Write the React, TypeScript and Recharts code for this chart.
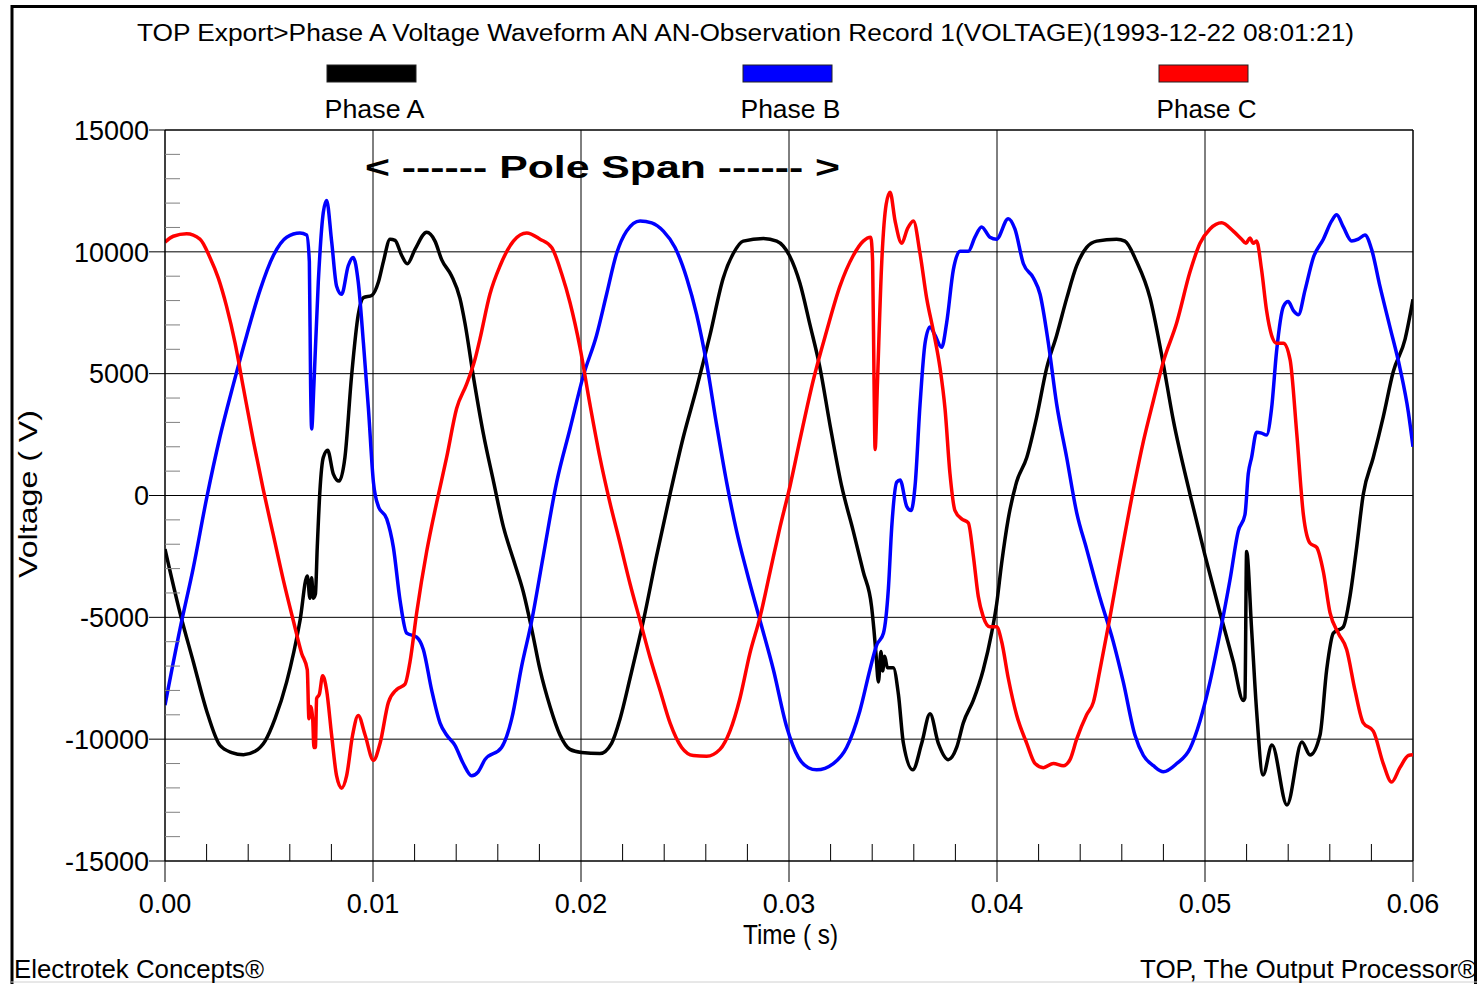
import { LineChart, Line, XAxis, YAxis, ReferenceLine } from 'recharts'

// time in milliseconds, voltage in volts
const phaseATime = [0, 0.72, 1.36, 2.0, 2.64, 3.21, 3.77, 4.33, 4.81, 5.29, 5.85, 6.49, 6.84, 6.97, 7.05, 7.13, 7.23, 7.32, 7.45, 7.61, 7.82, 8.09, 8.37, 8.65, 8.97, 9.29, 9.54, 9.94, 10.26, 10.5, 10.82, 11.06, 11.38, 11.65, 12.02, 12.58, 12.98, 13.3, 13.78, 14.18, 14.42, 14.82, 15.3, 15.8, 16.27, 16.75, 17.23, 17.63, 18.03, 18.51, 18.99, 19.47, 20.03, 20.91, 21.47, 21.88, 22.36, 23.0, 23.64, 24.28, 24.92, 25.56, 26.2, 26.84, 27.32, 27.8, 28.77, 29.41, 30.02, 30.53, 31.01, 31.49, 31.97, 32.53, 33.09, 33.57, 33.97, 34.08, 34.18, 34.3, 34.42, 34.5, 34.6, 34.73, 35.01, 35.26, 35.5, 35.95, 36.38, 36.78, 37.18, 37.66, 38.06, 38.38, 38.86, 39.34, 39.74, 39.98, 40.22, 40.54, 40.94, 41.43, 41.91, 42.39, 42.87, 43.35, 43.83, 44.31, 44.79, 45.75, 46.15, 46.71, 47.36, 47.92, 48.48, 49.28, 50.0, 50.72, 51.36, 51.84, 51.92, 52.0, 52.24, 52.48, 52.79, 53.22, 53.94, 54.66, 55.05, 55.53, 55.85, 56.17, 56.65, 56.97, 57.29, 57.61, 58.09, 58.57, 59.05, 59.62, 60.0]
const phaseAVolts = [-2200, -4810, -6820, -8830, -10250, -10550, -10640, -10500, -10080, -9160, -7650, -5140, -3300, -4220, -3380, -4220, -4050, -2130, 220, 1560, 1860, 890, 590, 1560, 4910, 7420, 8120, 8210, 8760, 9600, 10520, 10470, 9850, 9510, 10100, 10800, 10440, 9680, 9010, 8090, 7080, 4910, 2560, 550, -1290, -2630, -3970, -5480, -7150, -8660, -9830, -10420, -10550, -10590, -10170, -9160, -7490, -5140, -2460, 50, 2400, 4410, 6580, 8930, 9930, 10440, 10550, 10440, 9850, 8700, 7000, 5240, 2900, 390, -1460, -3130, -4560, -5480, -6480, -7650, -6400, -7200, -6600, -7070, -7070, -8160, -10170, -11260, -10170, -8960, -10170, -10840, -10340, -9330, -8410, -7150, -5650, -4470, -2800, -960, 550, 1560, 3230, 5240, 6580, 8090, 9430, 10180, 10440, 10520, 10440, 9600, 8100, 5750, 3070, 50, -2460, -4810, -6820, -8410, -8300, -2300, -5480, -8830, -11470, -10240, -12700, -10120, -10650, -9830, -7150, -5650, -5390, -4140, -2130, 50, 1560, 3230, 5080, 6420, 8050]

const phaseBTime = [0, 0.72, 1.36, 2.0, 2.64, 3.29, 3.93, 4.57, 5.21, 5.85, 6.49, 6.81, 6.94, 7.0, 7.05, 7.16, 7.37, 7.61, 7.77, 8.01, 8.25, 8.49, 8.81, 9.05, 9.29, 9.54, 9.78, 10.02, 10.26, 10.66, 10.98, 11.3, 11.62, 12.1, 12.42, 12.82, 13.22, 13.54, 13.94, 14.34, 14.74, 15.06, 15.38, 16.18, 16.67, 17.15, 17.63, 18.19, 18.83, 19.47, 20.11, 20.75, 21.23, 21.71, 22.19, 22.84, 23.4, 23.96, 24.52, 25.08, 25.56, 26.04, 26.52, 27.0, 27.48, 27.97, 28.61, 29.25, 29.89, 30.45, 30.93, 31.33, 32.13, 32.77, 33.41, 33.89, 34.21, 34.54, 34.78, 34.94, 35.18, 35.34, 35.66, 35.87, 36.06, 36.3, 36.54, 36.78, 37.02, 37.34, 37.58, 37.9, 38.22, 38.62, 38.94, 39.26, 39.66, 39.98, 40.54, 40.86, 41.27, 41.75, 42.07, 42.47, 42.87, 43.35, 43.83, 44.31, 44.95, 45.59, 46.07, 46.63, 47.04, 47.52, 48.0, 48.64, 49.28, 49.76, 50.24, 50.72, 51.2, 51.6, 51.92, 52.08, 52.24, 52.48, 52.72, 52.96, 53.2, 53.44, 53.77, 54.0, 54.25, 54.49, 54.81, 55.21, 55.69, 56.09, 56.33, 56.65, 57.05, 57.37, 57.69, 58.01, 58.41, 58.89, 59.37, 59.78, 60.0]
const phaseBVolts = [-8600, -5480, -2970, -120, 2400, 4570, 6580, 8430, 9850, 10600, 10770, 10690, 9600, 4570, 2730, 4570, 8760, 11610, 12110, 10440, 8590, 8260, 9430, 9770, 8760, 6250, 3570, 550, -450, -960, -2130, -4300, -5650, -5810, -6320, -7990, -9330, -9830, -10250, -11000, -11500, -11340, -10840, -10340, -9160, -6990, -5140, -2460, 550, 2730, 4910, 6580, 8260, 9930, 10850, 11270, 11190, 10850, 10180, 8930, 7420, 5410, 2900, 550, -1460, -3130, -5140, -7150, -9500, -10750, -11170, -11260, -11000, -10340, -8830, -7150, -6150, -5650, -3800, -1290, 550, 640, -450, -620, 390, 3740, 6250, 6920, 6580, 6080, 7090, 9260, 10020, 10020, 10600, 11020, 10600, 10520, 11360, 10940, 9510, 8930, 8260, 6250, 3740, 1560, -700, -2200, -4200, -6000, -7650, -9830, -10670, -11090, -11340, -11000, -10380, -9250, -7650, -5650, -3470, -1460, -790, 890, 1560, 2600, 2560, 2480, 3570, 5910, 7760, 7960, 7590, 7420, 8430, 9770, 10520, 11270, 11520, 11020, 10440, 10520, 10690, 10100, 8590, 6920, 5240, 3400, 2000]

const phaseCTime = [0, 0.4, 1.04, 1.68, 2.16, 2.56, 2.96, 3.37, 3.77, 4.25, 4.73, 5.21, 5.69, 6.17, 6.57, 6.84, 6.92, 7.0, 7.1, 7.16, 7.23, 7.29, 7.42, 7.58, 7.77, 8.01, 8.25, 8.49, 8.73, 9.02, 9.29, 9.62, 10.02, 10.34, 10.74, 11.14, 11.54, 11.78, 12.1, 12.58, 13.06, 13.54, 14.02, 14.5, 14.9, 15.14, 15.62, 16.11, 16.75, 17.39, 18.03, 18.59, 19.07, 19.47, 19.95, 20.43, 20.91, 21.39, 21.88, 22.36, 22.84, 23.32, 23.8, 24.28, 24.84, 25.4, 26.04, 26.68, 27.16, 27.64, 28.12, 28.61, 29.09, 29.57, 30.05, 30.53, 31.17, 31.81, 32.45, 33.09, 33.57, 33.93, 34.02, 34.09, 34.14, 34.25, 34.46, 34.67, 34.86, 35.1, 35.42, 35.69, 35.98, 36.3, 36.62, 36.94, 37.26, 37.5, 37.74, 37.98, 38.3, 38.62, 38.86, 39.1, 39.34, 39.66, 39.98, 40.22, 40.54, 40.94, 41.43, 41.83, 42.23, 42.71, 43.19, 43.51, 43.83, 44.31, 44.63, 44.95, 45.43, 45.91, 46.55, 47.04, 47.52, 48.0, 48.64, 49.28, 49.76, 50.24, 50.8, 51.36, 51.76, 51.97, 52.16, 52.32, 52.48, 52.72, 52.96, 53.2, 53.44, 53.77, 54.09, 54.41, 54.73, 55.05, 55.37, 55.69, 56.01, 56.41, 56.81, 57.21, 57.61, 58.09, 58.57, 58.97, 59.37, 59.78, 60.0]
const phaseCVolts = [10400, 10640, 10740, 10520, 9770, 8930, 7760, 6250, 4410, 2230, 220, -1630, -3470, -5140, -6480, -7150, -9160, -8660, -9160, -10340, -10340, -8330, -8160, -7400, -7990, -9830, -11510, -12010, -11510, -9830, -9030, -9830, -10870, -10170, -8490, -7960, -7740, -6820, -4810, -2300, -290, 1560, 3570, 4570, 5580, 6420, 8260, 9430, 10440, 10770, 10520, 10180, 9100, 7920, 6080, 3740, 1560, -290, -1960, -3630, -5140, -6650, -7990, -9330, -10340, -10670, -10700, -10420, -9670, -8330, -6480, -4980, -3130, -1290, 390, 2300, 4740, 6750, 8590, 9850, 10440, 10600, 9600, 4570, 1890, 4570, 9600, 11940, 12450, 11270, 10350, 10940, 11270, 9930, 8090, 6750, 5240, 3570, 890, -620, -960, -1120, -2460, -4140, -4980, -5390, -5390, -5980, -7490, -9000, -10170, -11000, -11170, -11000, -11090, -10840, -10000, -9000, -8490, -7150, -5000, -2700, 220, 2230, 3900, 5500, 7090, 9180, 10350, 10940, 11190, 10850, 10520, 10350, 10570, 10350, 10440, 9260, 7590, 6580, 6250, 6250, 5580, 2560, -790, -1960, -2130, -3130, -4810, -5650, -6320, -7990, -9330, -9670, -11000, -11760, -11170, -10670, -10640]

const seriesNames = ['Phase A', 'Phase B', 'Phase C']
const seriesColors = ['#000000', '#0000ff', '#ff0000']

const xTicks = [0, 2, 4, 6, 8, 10, 12, 14, 16, 18, 20, 22, 24, 26, 28, 30, 32, 34, 36, 38, 40, 42, 44, 46, 48, 50, 52, 54, 56, 58, 60]
const xGrid = [10, 20, 30, 40, 50, 60]
const yTicks = [-15000, -14000, -13000, -12000, -11000, -10000, -9000, -8000, -7000, -6000, -5000, -4000, -3000, -2000, -1000, 0, 1000, 2000, 3000, 4000, 5000, 6000, 7000, 8000, 9000, 10000, 11000, 12000, 13000, 14000, 15000]
const yGrid = [-10000, -5000, 0, 5000, 10000, 15000]

const zip = (ts: number[], vs: number[]) => ts.map((t, i) => ({ t, v: vs[i] }))
const seriesData = [zip(phaseATime, phaseAVolts), zip(phaseBTime, phaseBVolts), zip(phaseCTime, phaseCVolts)]

const W = 1480
const H = 984
const M = { top: 130, right: 67, bottom: 93, left: 105 }
const Y_AXIS_W = 60
const X_AXIS_H = 30
const PLOT_L = M.left + Y_AXIS_W
const PLOT_B = H - M.bottom - X_AXIS_H
const FONT = '"Liberation Sans", Arial, Helvetica, sans-serif'

function XTick(props: any) {
  const { x, payload } = props
  const v = payload.value as number
  if (v % 10 !== 0) {
    return <line x1={x} x2={x} y1={PLOT_B} y2={PLOT_B - 17} stroke="#000" strokeWidth={1} />
  }
  return (
    <g>
      <line x1={x} x2={x} y1={PLOT_B} y2={PLOT_B + 21} stroke="#000" strokeWidth={1} />
      <text x={x} y={PLOT_B + 52} textAnchor="middle" fontSize={27} fontFamily={FONT} fill="#000">
        {(v / 1000).toFixed(2)}
      </text>
    </g>
  )
}

function YTick(props: any) {
  const { y, payload } = props
  const v = payload.value as number
  if (v % 5000 !== 0) {
    return <line x1={PLOT_L} x2={PLOT_L + 15} y1={y} y2={y} stroke="#808080" strokeWidth={1} />
  }
  return (
    <g>
      <line x1={PLOT_L - 16} x2={PLOT_L} y1={y} y2={y} stroke="#000" strokeWidth={1} />
      <text x={PLOT_L - 16} y={y + 9.7} textAnchor="end" fontSize={27} fontFamily={FONT} fill="#000">
        {v}
      </text>
    </g>
  )
}

export default function App() {
  return (
    <div style={{ position: 'absolute', left: 0, top: 0, width: W, height: H, background: '#fff' }}>
      <LineChart width={W} height={H} margin={M}>
        {xGrid.map((v) => (
          <ReferenceLine key={'gx' + v} x={v} stroke="#000" strokeWidth={v === 60 ? 1.5 : 1} />
        ))}
        {yGrid.map((v) => (
          <ReferenceLine key={'gy' + v} y={v} stroke="#000" strokeWidth={v === 15000 ? 1.5 : 1} />
        ))}
        <XAxis
          type="number"
          dataKey="t"
          domain={[0, 60]}
          ticks={xTicks}
          interval={0}
          height={X_AXIS_H}
          tickLine={false}
          axisLine={{ stroke: '#000', strokeWidth: 1.5 }}
          tick={XTick}
          allowDataOverflow
        />
        <YAxis
          type="number"
          domain={[-15000, 15000]}
          ticks={yTicks}
          interval={0}
          width={Y_AXIS_W}
          tickLine={false}
          axisLine={{ stroke: '#000', strokeWidth: 1.5 }}
          tick={YTick}
          allowDataOverflow
        />
        {seriesData.map((d, i) => (
          <Line
            key={seriesNames[i]}
            data={d}
            dataKey="v"
            name={seriesNames[i]}
            type="monotone"
            stroke={seriesColors[i]}
            strokeWidth={3.5}
            dot={false}
            activeDot={false}
            isAnimationActive={false}
          />
        ))}
      </LineChart>

      <svg
        width={W}
        height={H}
        style={{ position: 'absolute', left: 0, top: 0, pointerEvents: 'none' }}
        fontFamily={FONT}
      >
        {/* outer frame */}
        <line x1={12} x2={12} y1={5} y2={984} stroke="#000" strokeWidth={3} />
        <line x1={11} x2={1477} y1={6.5} y2={6.5} stroke="#000" strokeWidth={3} />
        <line x1={1475.5} x2={1475.5} y1={5} y2={984} stroke="#000" strokeWidth={3} />
        <line x1={11} x2={1477} y1={982} y2={982} stroke="#d0d0d0" strokeWidth={1} />

        <text x={745.5} y={41} textAnchor="middle" fontSize={23} textLength={1217} lengthAdjust="spacingAndGlyphs">
          TOP Export&gt;Phase A Voltage Waveform AN AN-Observation Record 1(VOLTAGE)(1993-12-22 08:01:21)
        </text>

        {seriesNames.map((n, i) => (
          <g key={n}>
            <rect x={327 + i * 416} y={65} width={89} height={17} fill={seriesColors[i]} stroke="#222" strokeWidth={1} />
            <text x={374.5 + i * 416} y={118} textAnchor="middle" fontSize={26} textLength={100} lengthAdjust="spacingAndGlyphs">
              {n}
            </text>
          </g>
        ))}

        <text x={365} y={178} fontSize={31} fontWeight="bold" textLength={475} lengthAdjust="spacingAndGlyphs">
          {'< ------ Pole Span ------ >'}
        </text>

        <text
          x={37}
          y={494}
          textAnchor="middle"
          fontSize={26}
          transform="rotate(-90 37 494)"
          textLength={168}
          lengthAdjust="spacingAndGlyphs"
        >
          Voltage ( V)
        </text>

        <text x={790.5} y={944} textAnchor="middle" fontSize={27} textLength={95} lengthAdjust="spacingAndGlyphs">
          Time ( s)
        </text>

        <text x={14} y={978} fontSize={25} textLength={250} lengthAdjust="spacingAndGlyphs">
          Electrotek Concepts®
        </text>
        <text x={1477} y={978} textAnchor="end" fontSize={25} textLength={337} lengthAdjust="spacingAndGlyphs">
          TOP, The Output Processor®
        </text>
      </svg>
    </div>
  )
}
